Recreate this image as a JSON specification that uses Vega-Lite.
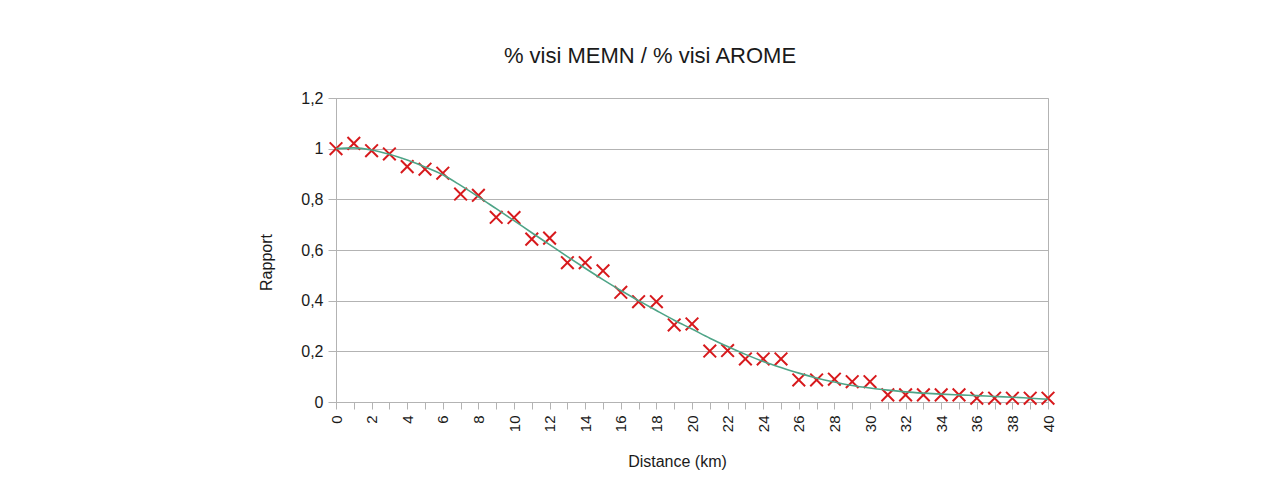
{
  "$schema": "https://vega.github.io/schema/vega-lite/v6.json",
  "autosize": "none",
  "width": 712,
  "height": 304,
  "padding": {"left": 336, "top": 98, "right": 234, "bottom": 95},
  "background": "white",
  "title": {
    "text": "% visi MEMN / % visi AROME",
    "font": "Liberation Sans",
    "fontSize": 22,
    "fontWeight": "normal",
    "color": "#1a1a1a",
    "anchor": "middle",
    "dx": -42,
    "baseline": "alphabetic",
    "offset": 5
  },
  "config": {
    "font": "Liberation Sans",
    "view": {"stroke": "#b3b3b3", "strokeWidth": 1}
  },
  "data": {
    "values": [
      {"distance": 0, "rapport": 1.0, "tendance": 1.0},
      {"distance": 1, "rapport": 1.021, "tendance": 1.003},
      {"distance": 2, "rapport": 0.992, "tendance": 0.995},
      {"distance": 3, "rapport": 0.979, "tendance": 0.978},
      {"distance": 4, "rapport": 0.929, "tendance": 0.955},
      {"distance": 5, "rapport": 0.919, "tendance": 0.928},
      {"distance": 6, "rapport": 0.903, "tendance": 0.897},
      {"distance": 7, "rapport": 0.821, "tendance": 0.855},
      {"distance": 8, "rapport": 0.816, "tendance": 0.81},
      {"distance": 9, "rapport": 0.729, "tendance": 0.763},
      {"distance": 10, "rapport": 0.728, "tendance": 0.716},
      {"distance": 11, "rapport": 0.643, "tendance": 0.668},
      {"distance": 12, "rapport": 0.647, "tendance": 0.621},
      {"distance": 13, "rapport": 0.55, "tendance": 0.574},
      {"distance": 14, "rapport": 0.55, "tendance": 0.528},
      {"distance": 15, "rapport": 0.518, "tendance": 0.483},
      {"distance": 16, "rapport": 0.433, "tendance": 0.44},
      {"distance": 17, "rapport": 0.396, "tendance": 0.4},
      {"distance": 18, "rapport": 0.396, "tendance": 0.361},
      {"distance": 19, "rapport": 0.304, "tendance": 0.323},
      {"distance": 20, "rapport": 0.308, "tendance": 0.288},
      {"distance": 21, "rapport": 0.201, "tendance": 0.252},
      {"distance": 22, "rapport": 0.203, "tendance": 0.219},
      {"distance": 23, "rapport": 0.17, "tendance": 0.188},
      {"distance": 24, "rapport": 0.17, "tendance": 0.16},
      {"distance": 25, "rapport": 0.17, "tendance": 0.136},
      {"distance": 26, "rapport": 0.087, "tendance": 0.114},
      {"distance": 27, "rapport": 0.087, "tendance": 0.095},
      {"distance": 28, "rapport": 0.09, "tendance": 0.079},
      {"distance": 29, "rapport": 0.08, "tendance": 0.065},
      {"distance": 30, "rapport": 0.08, "tendance": 0.055},
      {"distance": 31, "rapport": 0.028, "tendance": 0.047},
      {"distance": 32, "rapport": 0.028, "tendance": 0.04},
      {"distance": 33, "rapport": 0.028, "tendance": 0.035},
      {"distance": 34, "rapport": 0.028, "tendance": 0.031},
      {"distance": 35, "rapport": 0.028, "tendance": 0.028},
      {"distance": 36, "rapport": 0.015, "tendance": 0.025},
      {"distance": 37, "rapport": 0.015, "tendance": 0.022},
      {"distance": 38, "rapport": 0.015, "tendance": 0.019},
      {"distance": 39, "rapport": 0.015, "tendance": 0.015},
      {"distance": 40, "rapport": 0.015, "tendance": 0.011}
    ]
  },
  "encoding": {
    "x": {
      "field": "distance",
      "type": "quantitative",
      "scale": {"domain": [0, 40], "nice": false, "zero": false},
      "axis": {
        "title": "Distance (km)",
        "titleFont": "Liberation Sans",
        "titleFontSize": 16,
        "titleFontWeight": "normal",
        "titleColor": "#1a1a1a",
        "titleX": 341,
        "titleY": 64,
        "titleBaseline": "alphabetic",
        "values": [0,1,2,3,4,5,6,7,8,9,10,11,12,13,14,15,16,17,18,19,20,21,22,23,24,25,26,27,28,29,30,31,32,33,34,35,36,37,38,39,40],
        "labelExpr": "datum.value % 2 == 0 ? datum.label : ''",
        "labelAngle": -90,
        "labelFontSize": 15,
        "labelColor": "#1a1a1a",
        "labelPadding": 6,
        "labelFlush": false,
        "labelOverlap": false,
        "grid": false,
        "domainColor": "#b3b3b3",
        "tickColor": "#b3b3b3",
        "tickSize": 7
      }
    }
  },
  "layer": [
    {
      "mark": {
        "type": "point",
        "shape": "M-1,-1L1,1M-1,1L1,-1",
        "filled": false,
        "stroke": "#d7191c",
        "strokeWidth": 2,
        "size": 160,
        "opacity": 1
      },
      "encoding": {
        "y": {
          "field": "rapport",
          "type": "quantitative",
          "scale": {"domain": [0, 1.2], "nice": false},
          "axis": {
            "title": "Rapport",
            "titleFont": "Liberation Sans",
            "titleFontSize": 16,
            "titleFontWeight": "normal",
            "titleColor": "#1a1a1a",
            "titleAngle": -90,
            "titleX": -70,
            "titleY": 164,
            "titleAlign": "center",
            "titleBaseline": "middle",
            "values": [0, 0.2, 0.4, 0.6, 0.8, 1, 1.2],
            "format": "~g",
            "labelExpr": "replace(datum.label, '.', ',')",
            "labelFontSize": 16,
            "labelColor": "#1a1a1a",
            "labelPadding": 5,
            "labelFlush": false,
            "grid": true,
            "gridColor": "#b3b3b3",
            "domainColor": "#b3b3b3",
            "tickColor": "#b3b3b3",
            "tickSize": 8
          }
        }
      }
    },
    {
      "mark": {
        "type": "line",
        "interpolate": "monotone",
        "stroke": "#4ea487",
        "strokeWidth": 1.6
      },
      "encoding": {
        "y": {"field": "tendance", "type": "quantitative"}
      }
    }
  ]
}
